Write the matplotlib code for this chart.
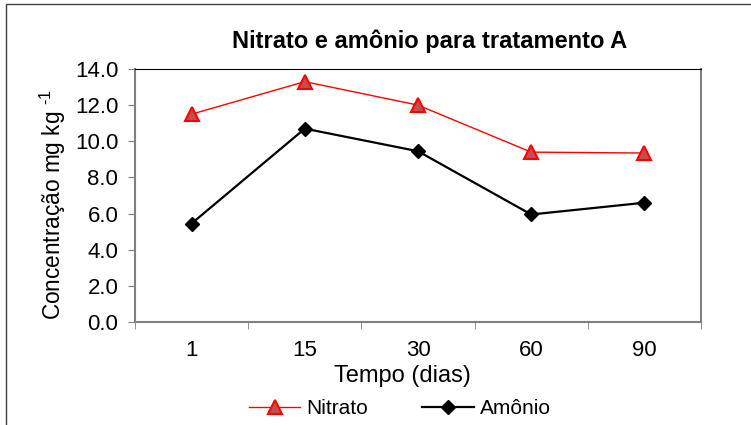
import matplotlib.pyplot as plt
from matplotlib.patches import Rectangle

plt.rcParams['font.family'] = ['Liberation Sans', 'DejaVu Sans']
plt.rcParams['mathtext.fontset'] = 'custom'
plt.rcParams['mathtext.rm'] = 'Liberation Sans'

dias = ['1', '15', '30', '60', '90']
nitrato = [11.5, 13.3, 12.0, 9.4, 9.35]
amonio = [5.45, 10.7, 9.45, 5.95, 6.6]

fig = plt.figure(figsize=[7.51, 4.25], dpi=100)
ax = fig.add_axes([135 / 751, 1 - 322 / 425, 566 / 751, 253 / 425])

x = range(len(dias))
ax.plot(x, nitrato, color='red', lw=1, marker='^', ms=10,
        mfc='#c0504d', mec='red', mew=1.5, label='Nitrato')
ax.plot(x, amonio, color='black', lw=1.6, marker='D', ms=7.5,
        mfc='black', mec='black', label='Amônio')

ax.set_xlim(-0.5, len(dias) - 0.5)
ax.set_ylim(0, 14)
ax.set_yticks([0, 2, 4, 6, 8, 10, 12, 14])
ax.set_yticklabels(['%.1f' % v for v in ax.get_yticks()], fontsize=16)
ax.set_xticks(list(x))
ax.set_xticklabels(dias, fontsize=16)
ax.set_xticks([i - 0.5 for i in range(len(dias) + 1)], minor=True)
ax.tick_params(axis='x', which='major', length=0, pad=13)
ax.tick_params(axis='x', which='minor', length=5, direction='out', color='#808080')
ax.tick_params(axis='y', length=5, direction='out', color='#808080', pad=7)

for s in ['left', 'bottom', 'right']:
    ax.spines[s].set_color('#808080')
    ax.spines[s].set_linewidth(1.5)
ax.spines['top'].set_color('black')

ax.set_xlabel('Tempo (dias)', fontsize=17, va='center')
ax.xaxis.set_label_coords(0.472, -0.213)
ax.set_ylabel('Concentração mg kg $^{\\text{-1}}$', fontsize=16.3, va='center')
ax.yaxis.set_label_coords(-0.145, 0.462)
ax.set_title('Nitrato e amônio para tratamento A', fontsize=17,
             fontweight='bold', x=0.521, pad=15)

fig.legend(loc='center', bbox_to_anchor=(400 / 751, 1 - 409 / 425), ncol=2,
           frameon=False, fontsize=15, handlelength=2.45, columnspacing=2.6,
           handletextpad=0.3, borderpad=0)

fig.patches.append(Rectangle((6 / 751, -0.1), 1.2, 1.1 - 4 / 425,
                             transform=fig.transFigure, fill=False,
                             edgecolor='#404040', lw=1))

fig.savefig('out.png', dpi=100)
